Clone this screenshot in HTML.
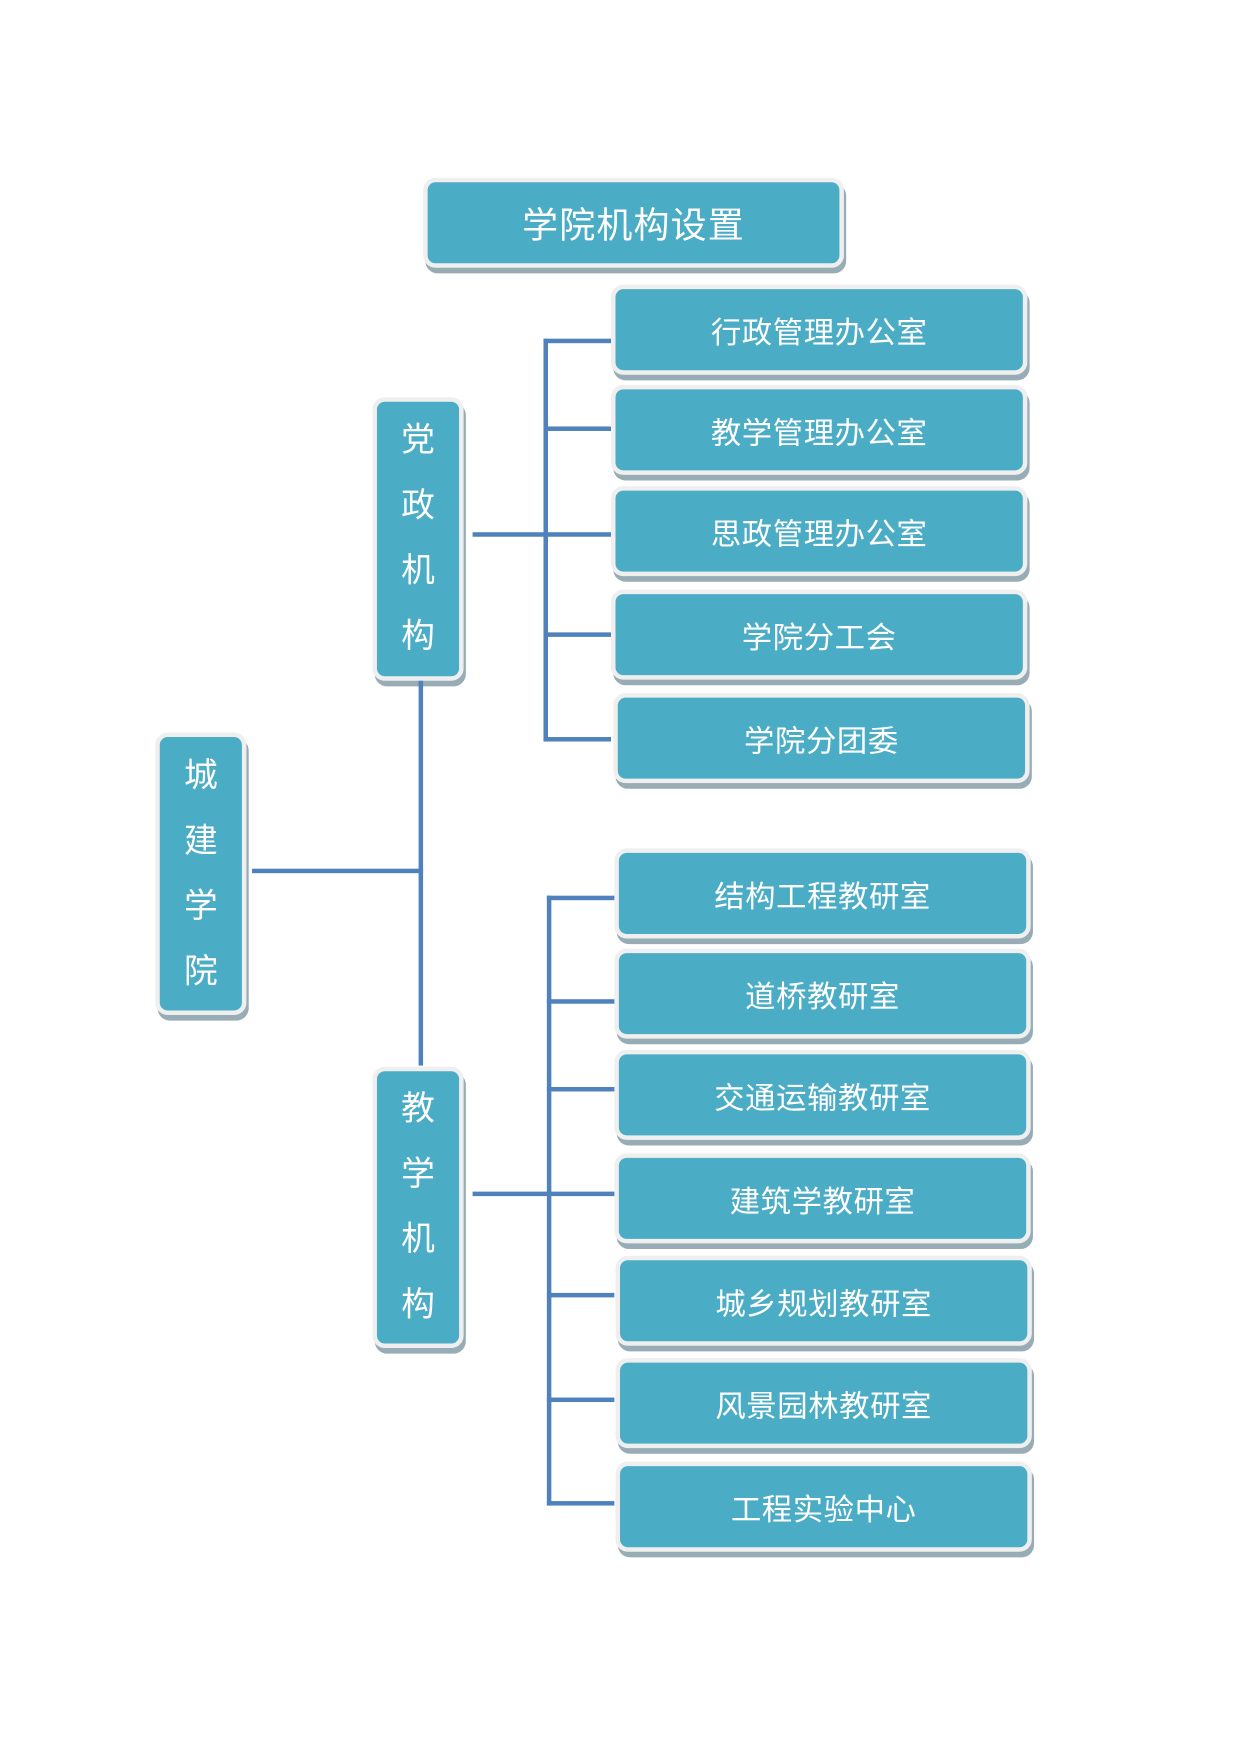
<!DOCTYPE html>
<html><head><meta charset="utf-8"><style>
html,body{margin:0;padding:0;background:#fff;}
#w{position:relative;width:1102px;height:1559px;transform:scale(1.12523);transform-origin:0 0;font-family:"Liberation Sans","Noto Sans CJK SC",sans-serif;}
.b{position:absolute;background:#4bacc6;border:4px solid #efefef;border-radius:11px;box-shadow:2px 5px 0 #97acb5;color:#fff;display:flex;align-items:center;justify-content:center;box-sizing:content-box;}
.h{font-size:27px;letter-spacing:0.5px;}
.v{flex-direction:column;font-size:30px;line-height:58px;}
.l{position:absolute;background:#4f81bd;}
</style></head><body><div id="w">
<div class="b" style="left:376px;top:158px;width:366px;height:72px;font-size:32px;letter-spacing:1px">学院机构设置</div>

<div class="b h" style="left:543px;top:253px;width:362px;height:72px">行政管理办公室</div>
<div class="b h" style="left:543px;top:342px;width:362px;height:72px">教学管理办公室</div>
<div class="b h" style="left:543px;top:432px;width:362px;height:72px">思政管理办公室</div>
<div class="b h" style="left:543px;top:524px;width:362px;height:72px">学院分工会</div>
<div class="b h" style="left:545px;top:616px;width:362px;height:72px">学院分团委</div>

<div class="b h" style="left:546px;top:754px;width:362px;height:72px">结构工程教研室</div>
<div class="b h" style="left:546px;top:843px;width:362px;height:72px">道桥教研室</div>
<div class="b h" style="left:546px;top:933px;width:362px;height:72px">交通运输教研室</div>
<div class="b h" style="left:546px;top:1025px;width:362px;height:72px">建筑学教研室</div>
<div class="b h" style="left:547px;top:1116px;width:362px;height:72px">城乡规划教研室</div>
<div class="b h" style="left:547px;top:1207px;width:362px;height:72px">风景园林教研室</div>
<div class="b h" style="left:547px;top:1299px;width:362px;height:72px">工程实验中心</div>

<div class="b v" style="left:331px;top:353px;width:73px;height:244px"><span>党</span><span>政</span><span>机</span><span>构</span></div>
<div class="b v" style="left:331px;top:948px;width:73px;height:242px"><span>教</span><span>学</span><span>机</span><span>构</span></div>
<div class="b v" style="left:138px;top:651px;width:73px;height:243px"><span>城</span><span>建</span><span>学</span><span>院</span></div>

<div class="l" style="left:224px;top:772px;width:152px;height:4px"></div>
<div class="l" style="left:372px;top:605px;width:4px;height:342px"></div>

<div class="l" style="left:420px;top:473px;width:67px;height:4px"></div>
<div class="l" style="left:483px;top:301px;width:4px;height:358px"></div>
<div class="l" style="left:483px;top:301px;width:60px;height:4px"></div>
<div class="l" style="left:483px;top:379px;width:60px;height:4px"></div>
<div class="l" style="left:483px;top:473px;width:60px;height:4px"></div>
<div class="l" style="left:483px;top:562px;width:60px;height:4px"></div>
<div class="l" style="left:483px;top:655px;width:60px;height:4px"></div>

<div class="l" style="left:420px;top:1059px;width:70px;height:4px"></div>
<div class="l" style="left:486px;top:796px;width:4px;height:542px"></div>
<div class="l" style="left:486px;top:796px;width:60px;height:4px"></div>
<div class="l" style="left:486px;top:888px;width:60px;height:4px"></div>
<div class="l" style="left:486px;top:966px;width:60px;height:4px"></div>
<div class="l" style="left:486px;top:1059px;width:60px;height:4px"></div>
<div class="l" style="left:486px;top:1149px;width:60px;height:4px"></div>
<div class="l" style="left:486px;top:1242px;width:60px;height:4px"></div>
<div class="l" style="left:486px;top:1334px;width:60px;height:4px"></div>
</div></body></html>
